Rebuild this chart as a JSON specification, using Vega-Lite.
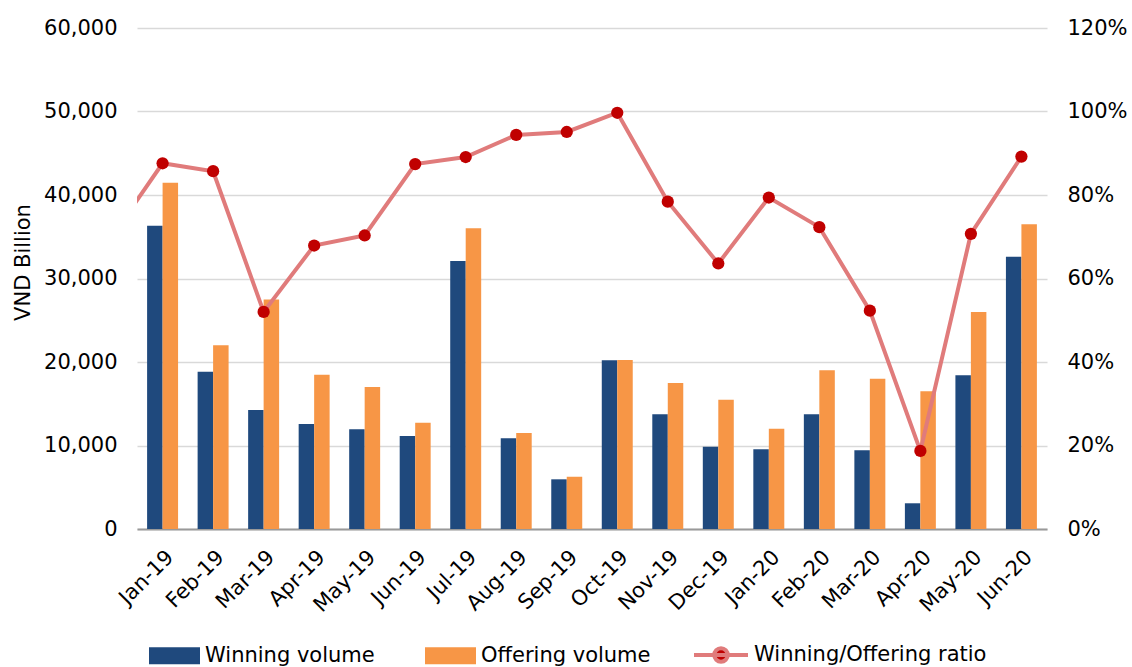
{
  "$schema": "https://vega.github.io/schema/vega-lite/v6.json",
  "width": 910,
  "height": 501,
  "autosize": {"type": "none"},
  "padding": {"left": 137, "top": 28, "right": 85, "bottom": 138},
  "background": "#ffffff",
  "config": {
    "font": "DejaVu Sans",
    "view": {"stroke": null},
    "axis": {"labelFont": "DejaVu Sans", "titleFont": "DejaVu Sans", "labelColor": "#000000", "titleColor": "#000000", "labelLimit": 0},
    "legend": {"labelFont": "DejaVu Sans", "labelColor": "#000000", "labelLimit": 0}
  },
  "datasets": {
    "bars": [
      {"month": "Jan-19", "series": "Winning volume", "value": 36320},
      {"month": "Jan-19", "series": "Offering volume", "value": 41470},
      {"month": "Feb-19", "series": "Winning volume", "value": 18840},
      {"month": "Feb-19", "series": "Offering volume", "value": 22000},
      {"month": "Mar-19", "series": "Winning volume", "value": 14250},
      {"month": "Mar-19", "series": "Offering volume", "value": 27500},
      {"month": "Apr-19", "series": "Winning volume", "value": 12575},
      {"month": "Apr-19", "series": "Offering volume", "value": 18480},
      {"month": "May-19", "series": "Winning volume", "value": 11940},
      {"month": "May-19", "series": "Offering volume", "value": 17000},
      {"month": "Jun-19", "series": "Winning volume", "value": 11140},
      {"month": "Jun-19", "series": "Offering volume", "value": 12730},
      {"month": "Jul-19", "series": "Winning volume", "value": 32100},
      {"month": "Jul-19", "series": "Offering volume", "value": 36010},
      {"month": "Aug-19", "series": "Winning volume", "value": 10860},
      {"month": "Aug-19", "series": "Offering volume", "value": 11500},
      {"month": "Sep-19", "series": "Winning volume", "value": 5950},
      {"month": "Sep-19", "series": "Offering volume", "value": 6270},
      {"month": "Oct-19", "series": "Winning volume", "value": 20200},
      {"month": "Oct-19", "series": "Offering volume", "value": 20230},
      {"month": "Nov-19", "series": "Winning volume", "value": 13730},
      {"month": "Nov-19", "series": "Offering volume", "value": 17480},
      {"month": "Dec-19", "series": "Winning volume", "value": 9860},
      {"month": "Dec-19", "series": "Offering volume", "value": 15490},
      {"month": "Jan-20", "series": "Winning volume", "value": 9540},
      {"month": "Jan-20", "series": "Offering volume", "value": 12010},
      {"month": "Feb-20", "series": "Winning volume", "value": 13730},
      {"month": "Feb-20", "series": "Offering volume", "value": 19000},
      {"month": "Mar-20", "series": "Winning volume", "value": 9420},
      {"month": "Mar-20", "series": "Offering volume", "value": 18000},
      {"month": "Apr-20", "series": "Winning volume", "value": 3080},
      {"month": "Apr-20", "series": "Offering volume", "value": 16490},
      {"month": "May-20", "series": "Winning volume", "value": 18400},
      {"month": "May-20", "series": "Offering volume", "value": 25990},
      {"month": "Jun-20", "series": "Winning volume", "value": 32610},
      {"month": "Jun-20", "series": "Offering volume", "value": 36490}
    ],
    "ratio": [
      {"month": "Dec-18", "ratio": 0.701},
      {"month": "Jan-19", "ratio": 0.876},
      {"month": "Feb-19", "ratio": 0.857},
      {"month": "Mar-19", "ratio": 0.520},
      {"month": "Apr-19", "ratio": 0.679},
      {"month": "May-19", "ratio": 0.703},
      {"month": "Jun-19", "ratio": 0.874},
      {"month": "Jul-19", "ratio": 0.891},
      {"month": "Aug-19", "ratio": 0.944},
      {"month": "Sep-19", "ratio": 0.951},
      {"month": "Oct-19", "ratio": 0.997},
      {"month": "Nov-19", "ratio": 0.784},
      {"month": "Dec-19", "ratio": 0.636},
      {"month": "Jan-20", "ratio": 0.794},
      {"month": "Feb-20", "ratio": 0.723},
      {"month": "Mar-20", "ratio": 0.523},
      {"month": "Apr-20", "ratio": 0.187},
      {"month": "May-20", "ratio": 0.707},
      {"month": "Jun-20", "ratio": 0.892}
    ]
  },
  "layer": [
    {
      "data": {"name": "bars"},
      "mark": {"type": "bar"},
      "encoding": {
        "x": {
          "field": "month",
          "type": "nominal",
          "sort": ["Jan-19","Feb-19","Mar-19","Apr-19","May-19","Jun-19","Jul-19","Aug-19","Sep-19","Oct-19","Nov-19","Dec-19","Jan-20","Feb-20","Mar-20","Apr-20","May-20","Jun-20"],
          "scale": {"paddingInner": 0.387, "paddingOuter": 0.2},
          "axis": {
            "title": null,
            "labelAngle": -45,
            "labelFontSize": 21,
            "labelPadding": 17,
            "ticks": false,
            "domain": true,
            "domainColor": "#999999",
            "domainWidth": 2,
            "grid": false
          }
        },
        "xOffset": {"field": "series", "type": "nominal", "sort": ["Winning volume", "Offering volume"]},
        "y": {
          "field": "value",
          "type": "quantitative",
          "scale": {"domain": [0, 60000], "nice": false},
          "axis": {
            "title": "VND Billion",
            "titleFontSize": 21,
            "titleFontWeight": "normal",
            "titlePadding": 10,
            "titleY": 234,
            "values": [0, 10000, 20000, 30000, 40000, 50000, 60000],
            "format": ",.0f",
            "labelFontSize": 21,
            "labelPadding": 20,
            "ticks": false,
            "domain": false,
            "grid": true,
            "gridColor": "#D9D9D9",
            "gridWidth": 1.5
          }
        },
        "fill": {
          "field": "series",
          "type": "nominal",
          "scale": {"domain": ["Winning volume", "Offering volume"], "range": ["#1F497D", "#F79646"]},
          "legend": {
            "title": null,
            "orient": "none",
            "legendX": 12,
            "legendY": 602,
            "direction": "horizontal",
            "columns": 2,
            "symbolType": "M-1,-0.333H1V0.333H-1Z",
            "symbolSize": 2601,
            "symbolStrokeWidth": 0,
            "labelFontSize": 21,
            "labelOffset": 5,
            "columnPadding": 50
          }
        }
      }
    },
    {
      "data": {"name": "ratio"},
      "mark": {"type": "line", "strokeWidth": 4, "clip": true},
      "encoding": {
        "x": {
          "field": "month",
          "type": "nominal",
          "scale": {
            "type": "point",
            "domain": ["Dec-18","Jan-19","Feb-19","Mar-19","Apr-19","May-19","Jun-19","Jul-19","Aug-19","Sep-19","Oct-19","Nov-19","Dec-19","Jan-20","Feb-20","Mar-20","Apr-20","May-20","Jun-20"],
            "range": [-24.93, 884.41],
            "padding": 0
          },
          "axis": null
        },
        "y": {
          "field": "ratio",
          "type": "quantitative",
          "scale": {"domain": [0, 1.2], "nice": false},
          "axis": null
        },
        "stroke": {
          "datum": "Winning/Offering ratio",
          "scale": {"range": ["#E07B7B"]},
          "legend": {
            "title": null,
            "orient": "none",
            "legendX": 555,
            "legendY": 598,
            "symbolType": "M-1,0H1M0.25,0A0.25,0.25 0 1,1 -0.25,0A0.25,0.25 0 1,1 0.25,0Z",
            "symbolSize": 2916,
            "symbolStrokeWidth": 4,
            "labelFontSize": 21,
            "labelOffset": 4,
            "encode": {"symbols": {"update": {"fill": {"value": "#C00000"}}}}
          }
        }
      }
    },
    {
      "data": {"name": "ratio"},
      "mark": {"type": "point", "filled": true, "size": 150, "opacity": 1, "color": "#C00000", "clip": true},
      "encoding": {
        "x": {
          "field": "month",
          "type": "nominal",
          "scale": {
            "type": "point",
            "domain": ["Dec-18","Jan-19","Feb-19","Mar-19","Apr-19","May-19","Jun-19","Jul-19","Aug-19","Sep-19","Oct-19","Nov-19","Dec-19","Jan-20","Feb-20","Mar-20","Apr-20","May-20","Jun-20"],
            "range": [-24.93, 884.41],
            "padding": 0
          },
          "axis": null
        },
        "y": {
          "field": "ratio",
          "type": "quantitative",
          "scale": {"domain": [0, 1.2], "nice": false},
          "axis": {
            "orient": "right",
            "title": null,
            "values": [0, 0.2, 0.4, 0.6, 0.8, 1.0, 1.2],
            "format": ".0%",
            "labelFontSize": 21,
            "labelPadding": 20,
            "ticks": false,
            "domain": false,
            "grid": false
          }
        }
      }
    }
  ],
  "resolve": {"scale": {"x": "independent", "y": "independent"}}
}
